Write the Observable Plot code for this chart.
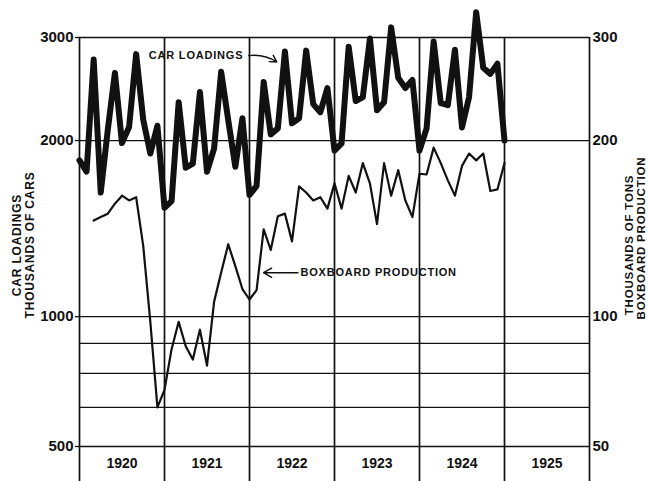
<!DOCTYPE html>
<html><head><meta charset="utf-8">
<script src="https://cdn.jsdelivr.net/npm/d3@7"></script>
<script src="https://cdn.jsdelivr.net/npm/@observablehq/plot@0.6"></script>
<style>
html,body{margin:0;padding:0;background:#fff;}
#chart{width:648px;height:481px;overflow:hidden;}
</style></head><body><div id="chart"></div>
<script>
// Car loadings, thousands of cars, monthly Jan 1920 .. Jan 1925
const carLoadings = [
  1850, 1770, 2750, 1630, 2090, 2610, 1980, 2110, 2810, 2170, 1900, 2120,
  1535, 1576, 2326, 1797, 1826, 2421, 1769, 1938, 2621, 2166, 1804, 2183,
  1614, 1673, 2518, 2049, 2098, 2838, 2140, 2183, 2849, 2308, 2236, 2459,
  1922, 1977, 2894, 2336, 2373, 2988, 2254, 2326, 3122, 2559, 2459, 2539,
  1922, 2098, 2953, 2317, 2299, 2860, 2106, 2373, 3314, 2663, 2600, 2706,
  2000
];
// Boxboard production, thousands of tons, monthly Mar 1920 .. Jan 1925
const boxboard = [
  146, 148, 150, 156, 161, 158, 160, 132, 98, 70,
  75, 88, 98, 89, 84.5, 95, 82.5, 106, 119, 133, 122, 111.5,
  107, 111, 141, 130, 148.5, 150, 134.5, 167, 163, 158, 160, 153,
  169, 153, 174, 163, 183, 169, 144, 183, 161, 178, 158, 148,
  175.5, 175, 194.5, 183, 171, 161, 181, 190, 185, 190, 164, 165,
  183
];
const startYear = 1920;
const boxboardStartMonth = 2; // March 1920
const yearBounds = [1920, 1921, 1922, 1923, 1924, 1925, 1926];
const yearMids = [1920.5, 1921.5, 1922.5, 1923.5, 1924.5, 1925.5];
const yearLabels = ["1920", "1921", "1922", "1923", "1924", "1925"];
const gridValues = [600, 700, 800, 900, 1000, 2000, 3000];
const leftTicks = [600, 1000, 2000, 3000];
const leftTickLabels = ["500", "1000", "2000", "3000"];
const rightTickLabels = ["50", "100", "200", "300"];
const leftTitle = ["CAR LOADINGS", "THOUSANDS OF CARS"];
const rightTitle = ["THOUSANDS OF TONS", "BOXBOARD PRODUCTION"];
const carNote = [{text: "CAR LOADINGS", x: 1920.815, y: 2793}];
const carArrow = [{x1: 1921.99, y1: 2793, x2: 1922.32, y2: 2725}];
const boxNote = [{text: "BOXBOARD PRODUCTION", x: 1922.6, y: 1189}];
const boxArrow = [{x1: 1922.57, y1: 1189, x2: 1922.165, y2: 1189}];

const carData = carLoadings.map((v, i) => ({date: startYear + i / 12, value: v}));
const boxData = boxboard.map((v, i) => ({date: startYear + (i + boxboardStartMonth) / 12, value: v * 10}));

const ink = "#111";
const chart = Plot.plot({
  width: 648, height: 481,
  marginLeft: 79, marginRight: 59, marginTop: 37, marginBottom: 35,
  style: {fontFamily: "'Liberation Sans', Arial, sans-serif", fontWeight: "bold", color: ink, background: "#fff"},
  x: {domain: [1920, 1926]},
  y: {type: "log", domain: [600, 3000]},
  marks: [
    Plot.gridY(gridValues, {stroke: ink, strokeOpacity: 1, strokeWidth: 1.3}),
    Plot.gridX(yearBounds, {stroke: ink, strokeOpacity: 1, strokeWidth: 1.7}),
    Plot.axisX(yearBounds, {tickSize: 35, tickFormat: () => "", stroke: ink, strokeWidth: 1.7, label: null}),
    Plot.axisX(yearMids, {tickSize: 0, tickPadding: 12, tickFormat: d => yearLabels[yearMids.indexOf(d)], fontSize: 14, fontWeight: "bold", label: null}),
    Plot.axisY(leftTicks, {anchor: "left", tickSize: 4, tickPadding: 2, strokeWidth: 1.3, tickFormat: d => leftTickLabels[leftTicks.indexOf(d)], fontSize: 15, fontWeight: "bold", label: null}),
    Plot.axisY(leftTicks, {anchor: "right", tickSize: 0, tickPadding: 3, tickFormat: d => rightTickLabels[leftTicks.indexOf(d)], fontSize: 15, fontWeight: "bold", label: null}),
    Plot.line(boxData, {x: "date", y: "value", stroke: ink, strokeWidth: 2.2}),
    Plot.line(carData, {x: "date", y: "value", stroke: ink, strokeWidth: 6}),
    Plot.text(carNote, {x: "x", y: "y", text: "text", textAnchor: "start", fontSize: 11, fontWeight: "bold", fill: ink}),
    Plot.arrow(carArrow, {x1: "x1", y1: "y1", x2: "x2", y2: "y2", bend: 20, stroke: ink, strokeWidth: 1.4, headLength: 8}),
    Plot.text(boxNote, {x: "x", y: "y", text: "text", textAnchor: "start", fontSize: 11, fontWeight: "bold", fill: ink}),
    Plot.arrow(boxArrow, {x1: "x1", y1: "y1", x2: "x2", y2: "y2", stroke: ink, strokeWidth: 1.4, headLength: 10}),
    Plot.text([leftTitle[0]], {text: d => d, frameAnchor: "left", textAnchor: "middle", dx: -62, dy: 3, rotate: -90, fontSize: 12, fontWeight: "bold", fill: ink}),
    Plot.text([leftTitle[1]], {text: d => d, frameAnchor: "left", textAnchor: "middle", dx: -49, dy: 3, rotate: -90, fontSize: 12, fontWeight: "bold", fill: ink}),
    Plot.text([rightTitle[0]], {text: d => d, frameAnchor: "right", textAnchor: "middle", dx: 40, dy: 3, rotate: -90, fontSize: 11.5, fontWeight: "bold", fill: ink}),
    Plot.text([rightTitle[1]], {text: d => d, frameAnchor: "right", textAnchor: "middle", dx: 52, dy: -4, rotate: -90, fontSize: 11.5, fontWeight: "bold", fill: ink})
  ]
});
document.getElementById("chart").appendChild(chart);
d3.select(chart).selectAll("text").each(function() {
  const t = this.textContent;
  if (t === "BOXBOARD PRODUCTION" || t === "CAR LOADINGS" || t === "THOUSANDS OF TONS" || t === "THOUSANDS OF CARS") {
    d3.select(this).attr("letter-spacing", "0.8");
  }
});
</script>
</body></html>
